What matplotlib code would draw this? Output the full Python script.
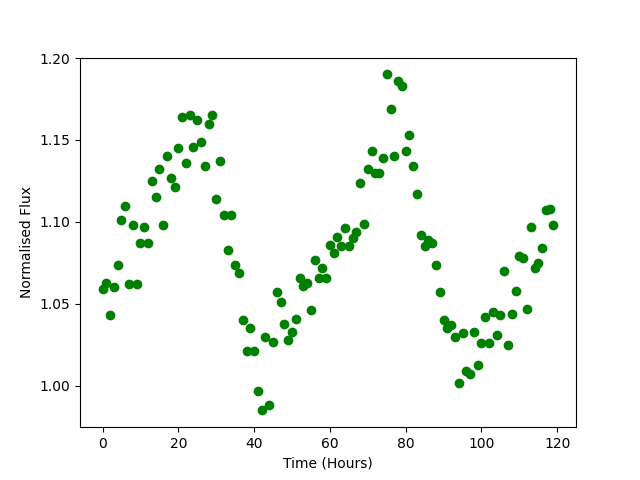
import numpy as np
import matplotlib
matplotlib.use("Agg")
import matplotlib.pyplot as plt

# flux values, one per hour
flux = [1.059, 1.063, 1.043, 1.060, 1.074, 1.101, 1.110, 1.062, 1.098, 1.062,
        1.087, 1.097, 1.087, 1.125, 1.115, 1.132, 1.098, 1.140, 1.127, 1.121,
        1.145, 1.164, 1.136, 1.165, 1.146, 1.162, 1.149, 1.134, 1.160, 1.165,
        1.114, 1.137, 1.104, 1.083, 1.104, 1.074, 1.069, 1.040, 1.021, 1.035,
        1.021, 0.997, 0.985, 1.030, 0.988, 1.027, 1.057, 1.051, 1.038, 1.028,
        1.033, 1.041, 1.066, 1.061, 1.063, 1.046, 1.077, 1.066, 1.072, 1.066,
        1.086, 1.081, 1.091, 1.085, 1.096, 1.085, 1.090, 1.094, 1.124, 1.099,
        1.132, 1.143, 1.130, 1.130, 1.139, 1.190, 1.169, 1.140, 1.186, 1.183,
        1.143, 1.153, 1.134, 1.117, 1.092, 1.085, 1.089, 1.087, 1.074, 1.057,
        1.040, 1.035, 1.037, 1.030, 1.002, 1.032, 1.009, 1.007, 1.033, 1.013,
        1.026, 1.042, 1.026, 1.045, 1.031, 1.043, 1.070, 1.025, 1.044, 1.058,
        1.079, 1.078, 1.047, 1.097, 1.072, 1.075, 1.084, 1.107, 1.108, 1.098]
hours = np.arange(len(flux))

fig, ax = plt.subplots(figsize=(6.4, 4.8), dpi=100)
ax.plot(hours, flux, 'o', color='green')
ax.set_xlabel('Time (Hours)')
ax.set_ylabel('Normalised Flux')
ax.set_yticks([1.00, 1.05, 1.10, 1.15, 1.20])
fig.savefig('out.png')
